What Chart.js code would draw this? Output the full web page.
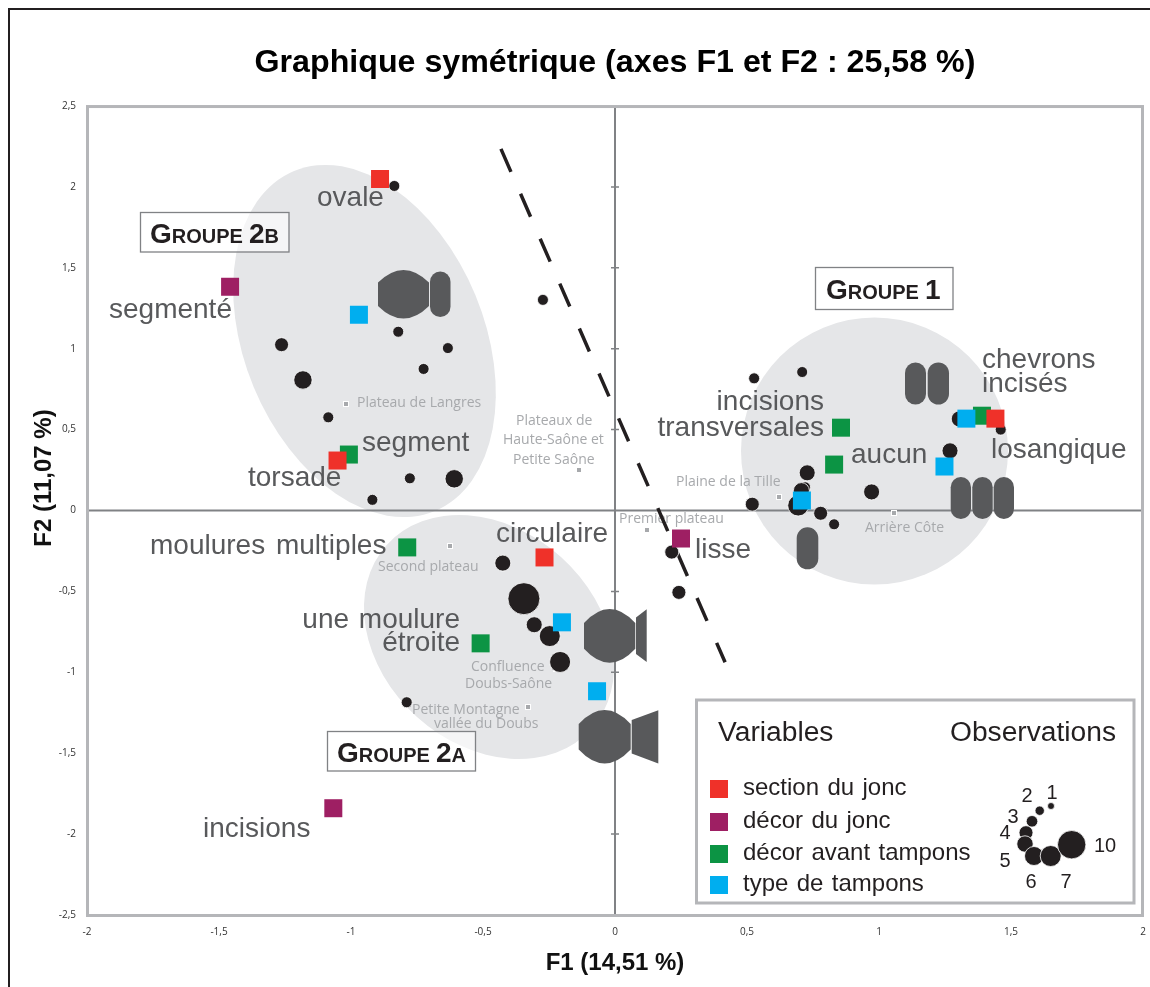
<!DOCTYPE html>
<html lang="fr">
<head>
<meta charset="utf-8">
<title>Graphique symétrique</title>
<script src="https://cdn.jsdelivr.net/npm/chart.js@4"></script>
<style>html,body{margin:0;padding:0;background:#fff}canvas{display:block}</style>
</head>
<body>
<canvas id="c" width="1150" height="987"></canvas>
<script>
const obsX = [-0.836,-0.821,-1.263,-0.633,-0.725,-1.182,-1.086,-0.777,-0.609,-0.919,-0.273,-0.425,-0.345,-0.306,-0.247,-0.208,-0.789,0.215,0.242,0.527,0.709,1.304,1.461,1.269,0.728,0.972,0.52,0.72,0.706,0.694,0.779,0.83];
const obsY = [2.006,1.105,1.025,1.004,0.875,0.807,0.576,0.199,0.196,0.066,1.302,-0.325,-0.545,-0.706,-0.776,-0.936,-1.185,-0.257,-0.506,0.817,0.856,0.566,0.5,0.369,0.233,0.115,0.039,0.144,0.123,0.031,-0.017,-0.085];
const obsClass = [2,2,3,2,2,6,2,2,6,2,2,4,10,4,7,7,2,3,3,2,2,4,2,4,4,4,3,2,4,7,3,2];
const sectionX = [-0.89,-1.051,-0.267,1.441];
const sectionY = [2.049,0.309,-0.290,0.568];
const jopncX = [-1.458,-1.067,0.25];
const jopncY = [1.383,-1.84,-0.173];
const decorX = [-1.008,-0.787,-0.509,0.856,0.83,1.39];
const decorY = [0.346,-0.228,-0.821,0.512,0.284,0.586];
const tamponX = [-0.97,-0.201,-0.068,1.331,1.248,0.708];
const tamponY = [1.21,-0.691,-1.117,0.568,0.272,0.062];
const lineX = [-0.432,0.417];
const lineY = [2.235,-0.938];
const xTicks = [-2,-1.5,-1,-0.5,0,0.5,1,1.5,2];
const yTicks = [-2.5,-2,-1.5,-1,-0.5,0,0.5,1,1.5,2,2.5];
const classRadius = {1:4,2:5.5,3:7,4:8,5:8.5,6:9.2,7:10.5,10:16};
const FONT = '"Liberation Sans", Arial, sans-serif';
const SMALL = '"Open Sans", "Noto Sans", sans-serif';

const varLabels = [
 ['ovale',317,206],['segmenté',109,318],['segment',362,451],['torsade',248,486],
 ['moulures multiples',150,554,3],['circulaire',496,542],['lisse',695,558],
 ['incisions',203,837],['aucun',851,463],['chevrons',982,368],['incisés',982,392],['losangique',991,458]
];
const varLabelsRight = [['une moulure',460,628,2],['étroite',460,651],['incisions',824,410],['transversales',824,436]];
const placeLabels = [
 ['Plateau de Langres',357,407],['Plateaux de',516,425],['Haute-Saône et',503,444],['Petite Saône',513,464],
 ['Plaine de la Tille',676,486],['Premier plateau',619,523],['Arrière Côte',865,532],['Second plateau',378,571],
 ['Confluence',471,671],['Doubs-Saône',465,688],['Petite Montagne',412,714],['vallée du Doubs',434,728]
];
const placeDots = [[346,404],[579,470],[779,497],[647,530],[894,513],[450,546],[556,669],[528,707]];

function capsule(ctx,x0,x1,y0,y1){
  const r=(x1-x0)/2;
  ctx.beginPath();
  ctx.roundRect(x0,y0,x1-x0,y1-y0,r);
  ctx.fill();
}
function barrel(ctx,x0,x1,y0,y1){
  const h=y1-y0,k=0.26*h,c=(x0+x1)/2;
  ctx.beginPath();
  ctx.moveTo(x0,y0+k);
  ctx.quadraticCurveTo(c,y0-k,x1,y0+k);
  ctx.lineTo(x1,y1-k);
  ctx.quadraticCurveTo(c,y1+k,x0,y1-k);
  ctx.closePath();
  ctx.fill();
}
function trap(ctx,x0,x1,a0,a1,b0,b1){
  ctx.beginPath();
  ctx.moveTo(x0,a0);ctx.lineTo(x1,b0);ctx.lineTo(x1,b1);ctx.lineTo(x0,a1);
  ctx.closePath();ctx.fill();
}
function text(ctx,s,x,y,font,color,align,ws){
  ctx.font=font;ctx.fillStyle=color;ctx.textAlign=align||'left';ctx.textBaseline='alphabetic';
  ctx.wordSpacing=(ws||0)+'px';
  ctx.fillText(s,x,y);
  ctx.wordSpacing='0px';
}
function groupBox(ctx,x0,y0,x1,y1,parts,tx,ty){
  ctx.fillStyle='rgba(255,255,255,0.6)';
  ctx.fillRect(x0,y0,x1-x0,y1-y0);
  ctx.strokeStyle='#808285';ctx.lineWidth=1.3;
  ctx.strokeRect(x0+.5,y0+.5,x1-x0,y1-y0);
  let x=tx;
  parts.forEach(p=>{
    const f='bold '+p[1]+'px '+FONT;
    text(ctx,p[0],x,ty,f,'#231f20');
    x+=ctx.measureText(p[0]).width+(p[2]||0);
  });
}

const backdrop = {
  id:'backdrop',
  beforeDatasetsDraw(chart){
    const {ctx,chartArea:a,scales:{x,y}}=chart;
    ctx.save();
    // page frame
    ctx.strokeStyle='#231f20';ctx.lineWidth=2;
    ctx.beginPath();ctx.moveTo(9,987);ctx.lineTo(9,9);ctx.lineTo(1150,9);ctx.stroke();
    // group ellipses
    ctx.fillStyle='#e5e6e8';
    ctx.beginPath();ctx.ellipse(364.5,341,120,184,-22.5*Math.PI/180,0,Math.PI*2);ctx.fill();
    ctx.beginPath();ctx.ellipse(874.5,451,133.5,133.5,0,0,Math.PI*2);ctx.fill();
    ctx.beginPath();ctx.ellipse(489,637,107.6,137.6,-48*Math.PI/180,0,Math.PI*2);ctx.fill();
    // axes
    ctx.strokeStyle='#808285';ctx.lineWidth=2;
    ctx.beginPath();
    ctx.moveTo(a.left,y.getPixelForValue(0));ctx.lineTo(a.right,y.getPixelForValue(0));
    ctx.moveTo(x.getPixelForValue(0),a.top);ctx.lineTo(x.getPixelForValue(0),a.bottom);
    ctx.stroke();
    ctx.lineWidth=1.5;
    ctx.beginPath();
    yTicks.forEach(v=>{
      if(v===0||Math.abs(v)===2.5)return;
      const py=y.getPixelForValue(v),px=x.getPixelForValue(0);
      ctx.moveTo(px-4,py);ctx.lineTo(px+4,py);
    });
    ctx.stroke();
    // frame
    ctx.strokeStyle='#b5b6b9';ctx.lineWidth=3;
    ctx.strokeRect(a.left+.5,a.top+.5,a.right-a.left-1,a.bottom-a.top);
    // tampon pictograms
    ctx.fillStyle='#58595b';
    barrel(ctx,378,429,270,318.5);capsule(ctx,430,450.5,271.5,317);
    capsule(ctx,905,926,362.5,404.5);capsule(ctx,927.7,949,362.5,404.5);
    capsule(ctx,950.7,971,477,519);capsule(ctx,972.3,992.7,477,519);capsule(ctx,993.7,1014,477,519);
    capsule(ctx,796.7,818.3,527.3,569.3);
    barrel(ctx,584,635.3,609,662.7);trap(ctx,636,646.7,617.5,654,609.3,662);
    barrel(ctx,578.7,630.7,710,763.5);trap(ctx,631.7,658.3,720,753.5,710.3,763.5);
    // place names
    placeLabels.forEach(l=>text(ctx,l[0],l[1],l[2],'14px '+SMALL,'#a7a9ac'));
    placeDots.forEach(d=>{
      ctx.fillStyle='#fff';ctx.fillRect(d[0]-3,d[1]-3,6,6);
      ctx.fillStyle='#a7a9ac';ctx.fillRect(d[0]-2,d[1]-2,4,4);
    });
    ctx.restore();
  },
  afterDatasetsDraw(chart){
    const {ctx}=chart;
    ctx.save();
    // y axis title
    ctx.save();ctx.translate(51,478);ctx.rotate(-Math.PI/2);
    text(ctx,'F2 (11,07 %)',0,0,'bold 24px '+FONT,'#111','center');ctx.restore();
    // variable labels
    const vf='28px '+FONT;
    varLabels.forEach(l=>text(ctx,l[0],l[1],l[2],vf,'#58595b','left',l[3]));
    varLabelsRight.forEach(l=>text(ctx,l[0],l[1],l[2],vf,'#58595b','right',l[3]));
    // group boxes
    groupBox(ctx,815,267,952.5,309,[['G',28],['ROUPE',20,6],['1',28]],826,299);
    groupBox(ctx,140,212,288.5,251.5,[['G',28],['ROUPE',20,6],['2',28],['B',20]],150,243);
    groupBox(ctx,327,731,475,770.5,[['G',28],['ROUPE',20,6],['2',28],['A',20]],337,762);
    // legend box
    ctx.fillStyle='#fff';ctx.fillRect(696,700,438,203);
    ctx.strokeStyle='#b5b6b9';ctx.lineWidth=3;ctx.strokeRect(696.5,700,437.5,203);
    const dk='#231f20';
    text(ctx,'Variables',718,741,'28.2px '+FONT,dk);
    text(ctx,'Observations',950,741,'28.2px '+FONT,dk);
    [['section du jonc','#ef3129',780],['décor du jonc','#9e1f63',813],['décor avant tampons','#0c9444',845],['type de tampons','#00aeef',876]]
    .forEach(r=>{
      ctx.fillStyle=r[1];ctx.fillRect(710,r[2],18,18);
      text(ctx,r[0],743,r[2]+15,'24px '+FONT,dk,'left',1.7);
    });
    [[1051,806,3.5],[1039.7,810.7,4.7],[1032,821.3,5.8],[1026,832.7,7],[1025,844,8.2],[1034,856,9.5],[1050.7,856,10.5],[1071.7,844.7,14.2]]
    .forEach((d,i)=>{
      ctx.beginPath();ctx.arc(d[0],d[1],d[2],0,Math.PI*2);
      ctx.fillStyle=dk;ctx.fill();ctx.lineWidth=.8;ctx.strokeStyle='#fff';ctx.stroke();
    });
    [['1',1052,799],['2',1027,802],['3',1013,823],['4',1005,839],['5',1005,867],['6',1031,888],['7',1066,888],['10',1105,852]]
    .forEach(n=>text(ctx,n[0],n[1],n[2],'20px '+FONT,dk,'center'));
    ctx.restore();
  }
};

const pts=(xs,ys)=>xs.map((v,i)=>({x:v,y:ys[i]}));
const squareSet=(label,xs,ys,color,order)=>({
  type:'scatter',label,data:pts(xs,ys),backgroundColor:color,borderWidth:0,
  pointStyle:'rect',pointRadius:12.73,pointHoverRadius:12.73,order
});
new Chart(document.getElementById('c'),{
  type:'scatter',
  data:{datasets:[
    {label:'séparation',data:pts(lineX,lineY),showLine:true,borderColor:'#231f20',borderWidth:3.5,borderDash:[25,24],pointRadius:0,order:6},
    {label:'Observations',data:pts(obsX,obsY),backgroundColor:'#231f20',borderColor:'#fff',borderWidth:.8,
     pointRadius:obsClass.map(c=>classRadius[c]),order:5},
    squareSet('décor avant tampons',decorX,decorY,'#0c9444',4),
    squareSet('décor du jonc',jopncX,jopncY,'#9e1f63',3),
    squareSet('type de tampons',tamponX,tamponY,'#00aeef',2),
    squareSet('section du jonc',sectionX,sectionY,'#ef3129',1)
  ]},
  options:{
    responsive:false,animation:false,devicePixelRatio:1,
    events:[],
    layout:{autoPadding:false,padding:{right:7,top:0,left:0,bottom:0}},
    plugins:{
      legend:{display:false},tooltip:{enabled:false},
      title:{display:true,text:'Graphique symétrique (axes F1 et F2 : 25,58 %)',fullSize:false,
        color:'#000',font:{family:FONT,size:32.2,weight:'bold'},padding:{top:44,bottom:23.4},align:'center'}
    },
    scales:{
      x:{type:'linear',min:-2,max:2,
        afterBuildTicks:s=>{s.ticks=xTicks.map(v=>({value:v}));},
        afterFit:s=>{s.height=72;},
        grid:{display:false,drawTicks:true,tickLength:11},border:{display:false},
        title:{display:true,text:'F1 (14,51 %)',color:'#111',font:{family:FONT,size:24,weight:'bold'},padding:{top:0,bottom:9}},
        ticks:{padding:0,color:'#333',font:{family:SMALL,size:10},maxRotation:0,autoSkip:false,
          callback:v=>String(v).replace('.',',')}
      },
      y:{type:'linear',min:-2.5,max:2.5,
        afterBuildTicks:s=>{s.ticks=yTicks.map(v=>({value:v}));},
        afterFit:s=>{s.width=87;},
        grid:{display:false,drawTicks:true,tickLength:11},border:{display:false},
        ticks:{padding:0,color:'#333',font:{family:SMALL,size:10},autoSkip:false,
          callback:v=>String(v).replace('.',',')}
      }
    }
  },
  plugins:[backdrop]
});
</script>
</body>
</html>
